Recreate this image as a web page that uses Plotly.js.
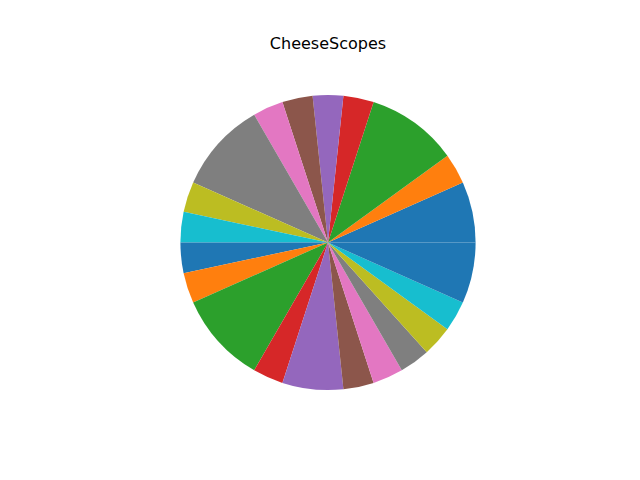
<!DOCTYPE html>
<html>
<head>
<meta charset="utf-8">
<script src="https://cdn.plot.ly/plotly-3.0.1.min.js"></script>
<style>html,body{margin:0;padding:0;background:#fff;}#chart{width:640px;height:480px;}</style>
</head>
<body>
<div id="chart"></div>
<script>
const labels = ["s1","s2","s3","s4","s5","s6","s7","s8","s9","s10","s11","s12","s13","s14","s15","s16","s17","s18","s19","s20","s21"];
const values = [2,1,3,1,1,1,1,3,1,1,1,1,3,1,2,1,1,1,1,1,2];
const palette = ["#1f77b4","#ff7f0e","#2ca02c","#d62728","#9467bd","#8c564b","#e377c2","#7f7f7f","#bcbd22","#17becf"];
const colors = labels.map((_, i) => palette[i % palette.length]);

// Plotly places the first counterclockwise slice ending at `rotation`;
// shift so the first slice starts at 3 o'clock like matplotlib.
const total = values.reduce((a, b) => a + b, 0);
const rotation = 90 - 360 * values[0] / total;

Plotly.newPlot("chart", [{
  type: "pie",
  labels: labels,
  values: values,
  sort: false,
  direction: "counterclockwise",
  rotation: rotation,
  textinfo: "none",
  hoverinfo: "none",
  marker: {colors: colors, line: {width: 0}},
  domain: {x: [0, 1], y: [0.1, 0.9]}
}], {
  width: 640, height: 480,
  margin: {l: 80, r: 64, t: 58, b: 53},
  showlegend: false,
  paper_bgcolor: "#fff",
  plot_bgcolor: "#fff",
  title: {text: "CheeseScopes", font: {family: "DejaVu Sans", size: 16, color: "#000"},
          x: 0.5125, xanchor: "center", yref: "container", y: 1 - 43/480, yanchor: "middle"}
}, {staticPlot: true});
</script>
</body>
</html>
